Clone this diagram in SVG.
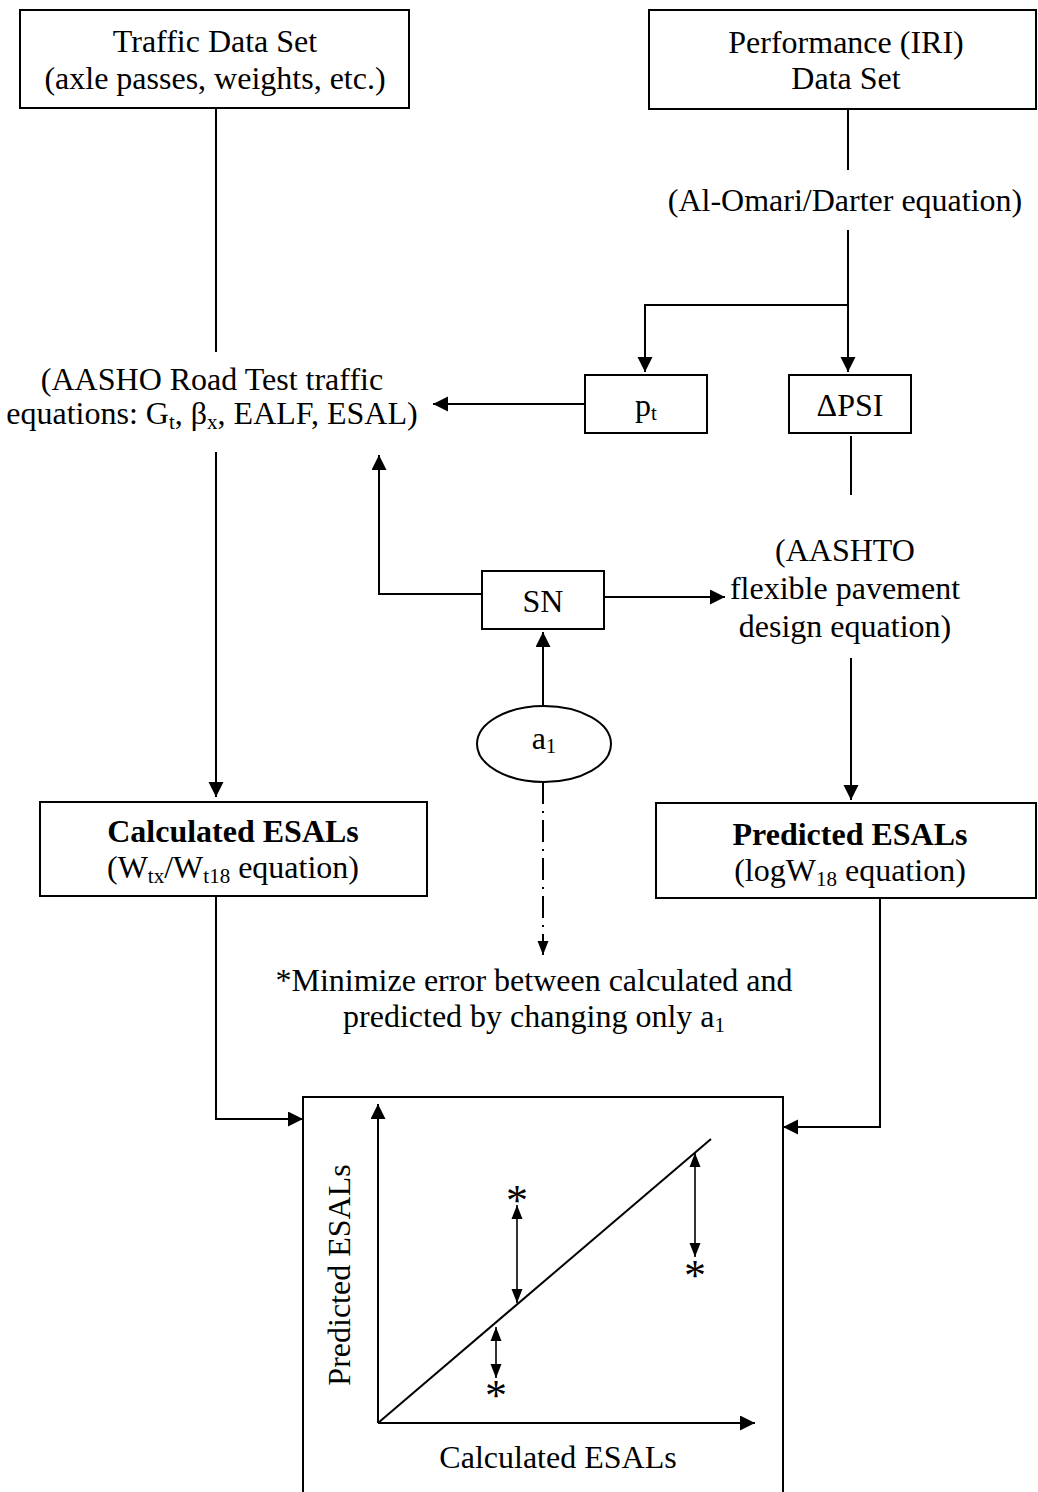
<svg xmlns="http://www.w3.org/2000/svg" width="1038" height="1492" viewBox="0 0 1038 1492">
<style>
text{font-family:"Liberation Serif","Times New Roman",serif;font-size:32px;fill:#000;text-anchor:middle}
.b{font-weight:bold}
.sub{font-size:21px}
.ast{font-size:44px}
.box{fill:#fff;stroke:#000;stroke-width:2}
.c{fill:none;stroke:#000;stroke-width:2}
.t{fill:none;stroke:#000;stroke-width:1.6}
</style>
<defs>
<marker id="arr" markerUnits="userSpaceOnUse" markerWidth="16" markerHeight="16" refX="15" refY="7.5" orient="auto"><path d="M0,0 L15,7.5 L0,15 z" fill="#000"/></marker>
<marker id="sarr" markerUnits="userSpaceOnUse" markerWidth="16" markerHeight="12" refX="14" refY="5.5" orient="auto"><path d="M0,0 L14,5.5 L0,11 z" fill="#000"/></marker>
<marker id="sarrs" markerUnits="userSpaceOnUse" markerWidth="16" markerHeight="12" refX="0" refY="5.5" orient="auto"><path d="M14,0 L0,5.5 L14,11 z" fill="#000"/></marker>
</defs>
<rect width="1038" height="1492" fill="#fff"/>
<g id="connectors">
<path class="c" d="M216,108 V352"/>
<path class="c" d="M848,109 V170"/>
<path class="c" d="M848,230 V372" marker-end="url(#arr)"/>
<path class="c" d="M848,305 H645 V372" marker-end="url(#arr)"/>
<path class="c" d="M585,404 H433" marker-end="url(#arr)"/>
<path class="c" d="M851,436 V495"/>
<path class="c" d="M482,594 H379 V455" marker-end="url(#arr)"/>
<path class="c" d="M604,597 H725" marker-end="url(#arr)"/>
<path class="c" d="M543,706 V632" marker-end="url(#arr)"/>
<path class="c" d="M543,782 V955" stroke-dasharray="22 7 2 7" marker-end="url(#sarr)"/>
<path class="c" d="M216,452 V797" marker-end="url(#arr)"/>
<path class="c" d="M851,658 V800" marker-end="url(#arr)"/>
<path class="c" d="M216,896 V1119 H303" marker-end="url(#arr)"/>
<path class="c" d="M880,898 V1127 H783" marker-end="url(#arr)"/>
</g>
<g id="traffic">
<rect class="box" x="20" y="10" width="389" height="98"/>
<text x="215" y="52">Traffic Data Set</text>
<text x="215" y="89">(axle passes, weights, etc.)</text>
</g>
<g id="performance">
<rect class="box" x="649" y="10" width="387" height="99"/>
<text x="846" y="53">Performance (IRI)</text>
<text x="846" y="89">Data Set</text>
</g>
<g id="alomari">
<text x="845" y="211">(Al-Omari/Darter equation)</text>
</g>
<g id="aasho">
<text x="212" y="390">(AASHO Road Test traffic</text>
<text x="212" y="424">equations: G<tspan class="sub" dy="5">t</tspan><tspan dy="-5">, β</tspan><tspan class="sub" dy="5">x</tspan><tspan dy="-5">, EALF, ESAL)</tspan></text>
</g>
<g id="pt">
<rect class="box" x="585" y="375" width="122" height="58"/>
<text x="646" y="416">p<tspan class="sub" dy="4">t</tspan></text>
</g>
<g id="dpsi">
<rect class="box" x="789" y="375" width="122" height="58"/>
<text x="850" y="416">ΔPSI</text>
</g>
<g id="aashto">
<text x="845" y="561">(AASHTO</text>
<text x="845" y="599">flexible pavement</text>
<text x="845" y="637">design equation)</text>
</g>
<g id="sn">
<rect class="box" x="482" y="571" width="122" height="58"/>
<text x="543" y="612">SN</text>
</g>
<g id="a1">
<ellipse class="box" cx="544" cy="744" rx="67" ry="38"/>
<text x="544" y="749">a<tspan class="sub" dy="4">1</tspan></text>
</g>
<g id="calculated">
<rect class="box" x="40" y="802" width="387" height="94"/>
<text class="b" x="233" y="842">Calculated ESALs</text>
<text x="233" y="878">(W<tspan class="sub" dy="5">tx</tspan><tspan dy="-5">/W</tspan><tspan class="sub" dy="5">t18</tspan><tspan dy="-5"> equation)</tspan></text>
</g>
<g id="predicted">
<rect class="box" x="656" y="803" width="380" height="95"/>
<text class="b" x="850" y="845">Predicted ESALs</text>
<text x="850" y="881">(logW<tspan class="sub" dy="5">18</tspan><tspan dy="-5"> equation)</tspan></text>
</g>
<g id="minimize">
<text x="534" y="991">*Minimize error between calculated and</text>
<text x="534" y="1027">predicted by changing only a<tspan class="sub" dy="5">1</tspan></text>
</g>
<g id="chart">
<rect class="box" x="303" y="1097" width="480" height="420"/>
<path class="c" d="M378,1423 V1104" marker-end="url(#arr)"/>
<path class="c" d="M378,1423 H755" marker-end="url(#arr)"/>
<path class="c" d="M378,1423 L711,1139"/>
<path class="t" d="M517,1205 V1303" marker-start="url(#sarrs)" marker-end="url(#sarr)"/>
<path class="t" d="M496,1327 V1378" marker-start="url(#sarrs)" marker-end="url(#sarr)"/>
<path class="t" d="M695,1153 V1257" marker-start="url(#sarrs)" marker-end="url(#sarr)"/>
<text class="ast" x="517" y="1215">*</text>
<text class="ast" x="496" y="1410">*</text>
<text class="ast" x="695" y="1290">*</text>
<text transform="translate(350,1275) rotate(-90)">Predicted ESALs</text>
<text x="558" y="1468">Calculated ESALs</text>
</g>
</svg>
